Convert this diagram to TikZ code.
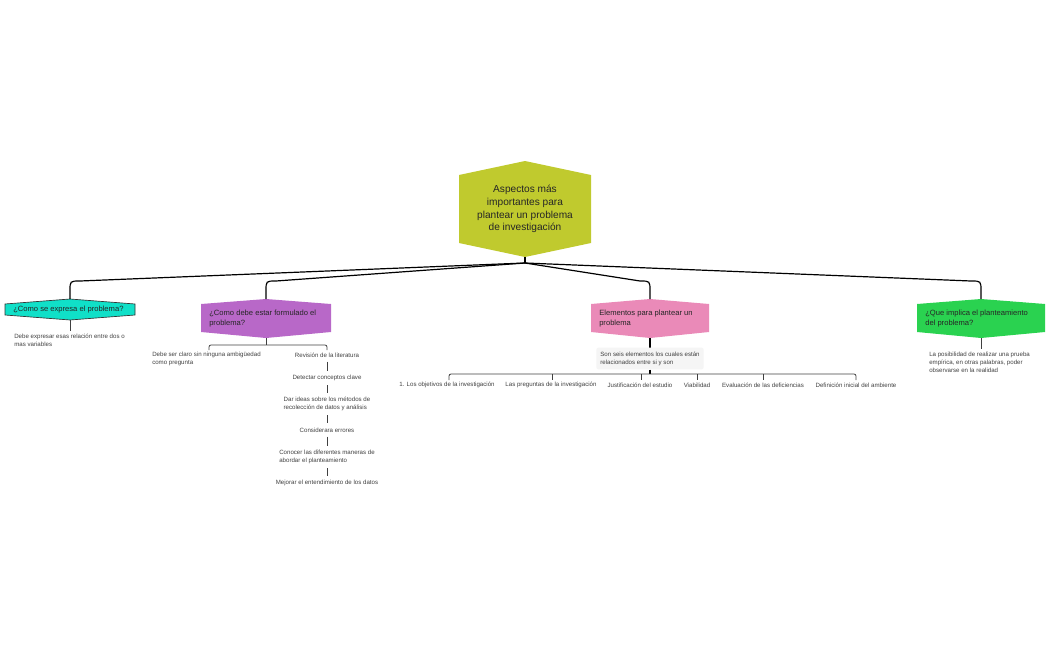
\documentclass[tikz,border=0pt]{standalone}
\usepackage{fontspec}
\setmainfont{Liberation Sans}
\begin{document}
\begin{tikzpicture}[x=0.75pt,y=-0.75pt,
 conn/.style={line width=0.9pt,black},
 sub/.style={line width=0.6pt,black!75},
 leaf/.style={font=\fontsize{4.6}{6}\selectfont,text=black!75,inner sep=0pt,align=left},
 leafc/.style={leaf,align=center},
 head/.style={font=\fontsize{5.7}{7}\selectfont,text=black!85,inner sep=0pt,align=left,anchor=west},
 hex/.style={draw=none}]
\useasboundingbox (0,0) rectangle (1050,650);
% root
\fill[hex,fill={rgb,255:red,192;green,202;blue,46}] (459,175)--(525,161)--(591,175)--(591,243)--(525,257)--(459,243)--cycle;
\node[font=\fontsize{7.6}{9.6}\selectfont,align=center,text=black!85] (root) at (525,209) {Aspectos más\\importantes para\\plantear un problema\\de investigación};
\coordinate (rb) at (525,263);
\draw[conn] (525,257)--(rb);
% children shapes
\fill[fill={rgb,255:red,16;green,224;blue,200},draw=black!80,line width=0.5pt] (5,304)--(70,299)--(135,304)--(135,315)--(70,320)--(5,315)--cycle;
\node[head] (c1) at (13,309.5) {¿Como se expresa el problema?};
\fill[fill={rgb,255:red,184;green,104;blue,200}] (201,304)--(266,299)--(331,304)--(331,332)--(266,338)--(201,332)--cycle;
\node[head] (c2) at (209,318.5) {¿Como debe estar formulado el\\problema?};
\fill[fill={rgb,255:red,234;green,138;blue,184}] (591,304)--(650,299)--(709,304)--(709,332)--(650,338)--(591,332)--cycle;
\node[head] (c3) at (599,318.5) {Elementos para plantear un\\problema};
\fill[fill={rgb,255:red,42;green,210;blue,80}] (917,304)--(981,299)--(1045,304)--(1045,332)--(981,338)--(917,332)--cycle;
\node[head] (c4) at (925,318.5) {¿Que implica el planteamiento\\del problema?};
\coordinate (t1) at (70,299); \coordinate (t2) at (266,299);
\coordinate (t3) at (650,299); \coordinate (t4) at (981,299);
% connectors root -> children
\draw[conn] (rb)--(80,281) .. controls (70,281) .. (70,291)--(t1);
\draw[conn] (rb)--(276,281) .. controls (266,281) .. (266,291)--(t2);
\draw[conn] (rb)--(640,281) .. controls (650,281) .. (650,291)--(t3);
\draw[conn] (rb)--(971,281) .. controls (981,281) .. (981,291)--(t4);
% child 1
\node[leaf,anchor=north west] (l1) at (14,334) {Debe expresar esas relación entre dos o\\mas variables};
\draw[sub] (70,320)--(70,331);
% child 2
\node[leaf,anchor=north west] (p1) at (152,352) {Debe ser claro sin ninguna ambigüedad\\como pregunta};
\node[leafc] (q1) at (327,355) {Revisión de la literatura};
\node[leafc] (q2) at (327,378) {Detectar conceptos clave};
\node[leaf] (q3) at (327,404) {Dar ideas sobre los métodos de\\recolección de datos y análisis};
\node[leafc] (q4) at (327,430) {Considerara errores};
\node[leaf] (q5) at (327,457) {Conocer las diferentes maneras de\\abordar el planteamiento};
\node[leafc] (q6) at (327,483) {Mejorar el entendimiento de los datos};
\draw[sub] (266,338)--(266,345);
\draw[sub] (209,350)--(209,347) arc(180:270:2)--(325,345) arc(270:360:2)--(327,350);
\foreach \a/\b in {q1/q2,q2/q3,q3/q4,q4/q5,q5/q6}{\draw[sub] ([yshift=-3]\a.south) -- ([yshift=3]\b.north);}
% child 3
\draw[conn] (650,338)--(650,349);
\node[fill=black!4,rounded corners=1.5pt,inner sep=3pt,font=\fontsize{4.6}{6}\selectfont,text=black!75,align=left,minimum width=80pt,minimum height=15pt] (note) at (650,358.5) {Son seis  elementos los cuales están\\relacionados entre si y son};
\draw[conn] (note.south)--(650,374);
\draw[sub] (449,380)--(449,376) arc(180:270:2)--(854,374) arc(270:360:2)--(856,380);
\foreach \x in {552,641,697,763}{\draw[sub] (\x,374)--(\x,380);}
\node[leafc] (e1) at (447,385) {1. Los objetivos de la investigación};
\node[leafc] (e2) at (551,385) {Las preguntas de la investigación};
\node[leafc] (e3) at (640,385) {Justificación del estudio};
\node[leafc] (e4) at (697,385) {Viabilidad};
\node[leafc] (e5) at (763,385) {Evaluación de las deficiencias};
\node[leafc] (e6) at (856,385) {Definición inicial del ambiente};
% child 4
\draw[sub] (981,338)--(981,349);
\node[leaf,anchor=north west] (g1) at (929,352) {La posibilidad de realizar una prueba\\empírica, en otras palabras, poder\\observarse en la realidad};
\end{tikzpicture}
\end{document}
